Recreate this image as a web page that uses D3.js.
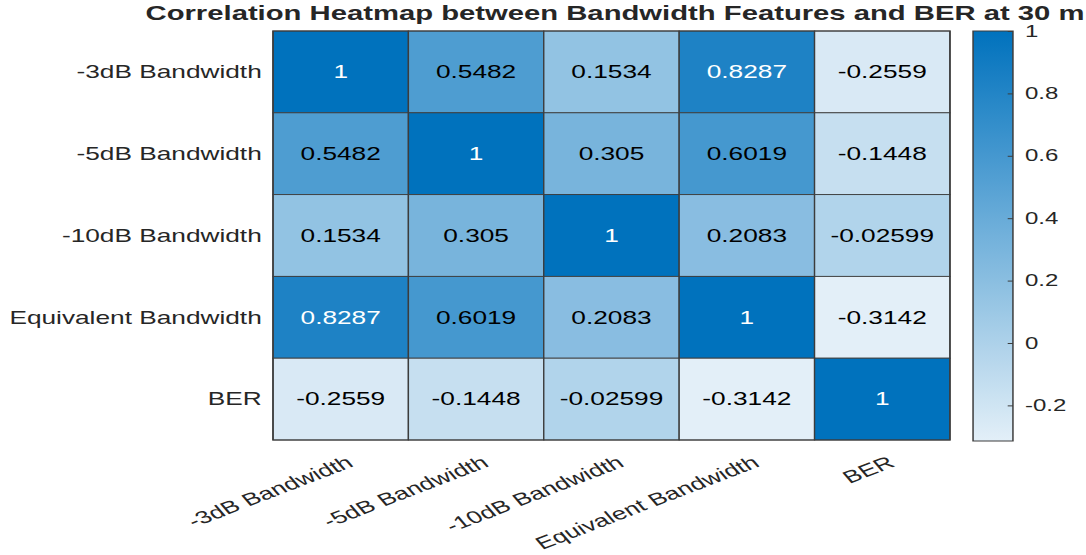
<!DOCTYPE html>
<html>
<head>
<meta charset="utf-8">
<script src="https://cdn.jsdelivr.net/npm/d3@7/dist/d3.min.js"></script>
<style>
  html, body { margin: 0; padding: 0; background: #fff; }
  svg { display: block; }
  text { font-family: "Liberation Sans", Arial, Helvetica, sans-serif; }
</style>
</head>
<body>
<svg id="chart" width="1086" height="555"></svg>
<script>
// Feature names (rows and columns share the same order)
const features = ["-3dB Bandwidth", "-5dB Bandwidth", "-10dB Bandwidth", "Equivalent Bandwidth", "BER"];

// Correlation coefficients, one array per row
const corr3dB  = [1, 0.5482, 0.1534, 0.8287, -0.2559];
const corr5dB  = [0.5482, 1, 0.305, 0.6019, -0.1448];
const corr10dB = [0.1534, 0.305, 1, 0.2083, -0.02599];
const corrEq   = [0.8287, 0.6019, 0.2083, 1, -0.3142];
const corrBER  = [-0.2559, -0.1448, -0.02599, -0.3142, 1];

// Colorbar tick values
const colorbarTicks = [1, 0.8, 0.6, 0.4, 0.2, 0, -0.2];

const titleText = "Correlation Heatmap between Bandwidth Features and BER at 30 m";

const matrix = [corr3dB, corr5dB, corr10dB, corrEq, corrBER];
const cells = [];
matrix.forEach((row, i) => row.forEach((v, j) => cells.push({ row: features[i], col: features[j], v })));

// The figure is laid out on a 724-wide canvas and widened 1.5x horizontally.
const stretchX = 1.5;
const svg = d3.select("#chart");
svg.append("rect").attr("width", 1086).attr("height", 555).attr("fill", "#fff");
const root = svg.append("g").attr("transform", `scale(${stretchX},1)`);

const gridLeft = 182, gridRight = 633.3, gridTop = 31, gridBottom = 440;
const cbLeft = 648.7, cbRight = 675.3, cbTop = 31, cbBottom = 441;

const x = d3.scaleBand().domain(features).range([gridLeft, gridRight]);
const y = d3.scaleBand().domain(features).range([gridTop, gridBottom]);

const allVals = matrix.flat();
const vMin = d3.min(allVals), vMax = d3.max(allVals);
const color = d3.scaleLinear()
  .domain([vMin, vMax])
  .range(["#e3eff8", "#0072bd"])
  .interpolate(d3.interpolateRgb);

const loc = d3.formatLocale({ decimal: ".", thousands: ",", grouping: [3], currency: ["", ""], minus: "-" });
const fmtCell = loc.format(".4~g");
const fmtTick = loc.format("~g");

const textCol = "#262626";
const fontSize = 17.5;

// Cells
root.append("g").selectAll("rect")
  .data(cells)
  .join("rect")
  .attr("x", d => x(d.col))
  .attr("y", d => y(d.row))
  .attr("width", x.bandwidth())
  .attr("height", y.bandwidth())
  .attr("fill", d => color(d.v))
  .attr("stroke", "#3c3c3c")
  .attr("stroke-width", 0.9);

// Cell labels: white text on dark cells
function lum(c) {
  const r = d3.rgb(c);
  return 0.299 * r.r + 0.587 * r.g + 0.114 * r.b;
}
root.append("g").selectAll("text")
  .data(cells)
  .join("text")
  .attr("x", d => x(d.col) + x.bandwidth() / 2)
  .attr("y", d => y(d.row) + y.bandwidth() / 2)
  .attr("dy", "0.36em")
  .attr("text-anchor", "middle")
  .attr("font-size", fontSize)
  .attr("fill", d => lum(color(d.v)) < 110 ? "#ffffff" : "#000000")
  .text(d => fmtCell(d.v));

// Outer frame
root.append("rect")
  .attr("x", gridLeft).attr("y", gridTop)
  .attr("width", gridRight - gridLeft).attr("height", gridBottom - gridTop)
  .attr("fill", "none").attr("stroke", "#3c3c3c").attr("stroke-width", 1);

// Row labels
root.append("g").selectAll("text")
  .data(features)
  .join("text")
  .attr("x", gridLeft - 7.5)
  .attr("y", d => y(d) + y.bandwidth() / 2)
  .attr("dy", "0.36em")
  .attr("text-anchor", "end")
  .attr("font-size", fontSize)
  .attr("fill", textCol)
  .text(d => d);

// Column labels, rotated
root.append("g").selectAll("text")
  .data(features)
  .join("text")
  .attr("transform", d => `translate(${x(d) + x.bandwidth() / 2 + 3},${gridBottom + 15}) rotate(-30)`)
  .attr("dy", "0.72em")
  .attr("text-anchor", "end")
  .attr("font-size", fontSize)
  .attr("fill", textCol)
  .text(d => d);

// Title
root.append("text")
  .attr("x", 410)
  .attr("y", 20)
  .attr("text-anchor", "middle")
  .attr("font-size", 19.5)
  .attr("font-weight", "bold")
  .attr("fill", textCol)
  .text(titleText);

// Colorbar
const cbScale = d3.scaleLinear().domain([vMin, vMax]).range([cbBottom, cbTop]);
const defs = svg.append("defs");
const grad = defs.append("linearGradient")
  .attr("id", "cbGrad")
  .attr("x1", 0).attr("y1", 1).attr("x2", 0).attr("y2", 0);
d3.range(0, 1.0001, 0.1).forEach(t => {
  grad.append("stop")
    .attr("offset", t)
    .attr("stop-color", color(vMin + t * (vMax - vMin)));
});
root.append("rect")
  .attr("x", cbLeft).attr("y", cbTop)
  .attr("width", cbRight - cbLeft).attr("height", cbBottom - cbTop)
  .attr("fill", "url(#cbGrad)")
  .attr("stroke", "#3c3c3c").attr("stroke-width", 1);

const cbAxis = d3.axisRight(cbScale)
  .tickValues(colorbarTicks)
  .tickSizeInner(-3.5)
  .tickSizeOuter(0)
  .tickPadding(8)
  .tickFormat(fmtTick);
const cbG = root.append("g")
  .attr("transform", `translate(${cbRight},0)`)
  .call(cbAxis);
cbG.select(".domain").remove();
cbG.selectAll(".tick line").attr("stroke", "#3c3c3c");
cbG.selectAll(".tick text")
  .attr("font-family", "'Liberation Sans', Arial, sans-serif")
  .attr("font-size", 16)
  .attr("fill", textCol);
</script>
</body>
</html>
